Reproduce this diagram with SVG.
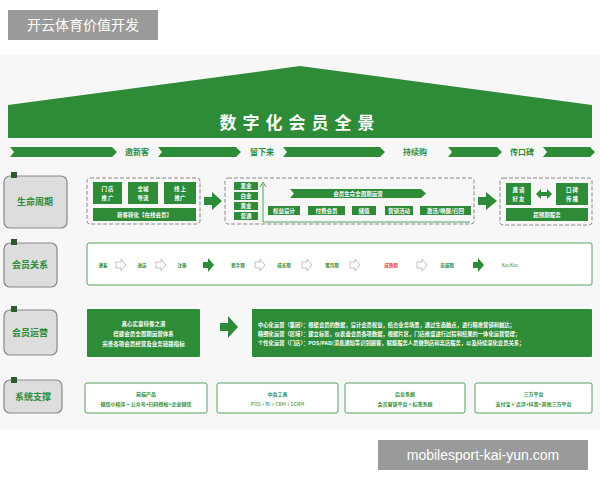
<svg xmlns="http://www.w3.org/2000/svg" width="600" height="480" viewBox="0 0 600 480">
<style>
text{font-family:"Noto Sans CJK SC","Liberation Sans",sans-serif;font-weight:bold}
text.n{font-weight:normal}
.g{fill:#2e8b37}
.w{fill:#fff}
.t{fill:#fff;font-size:5.5px;text-anchor:middle}
.gt{fill:#2e8b37;font-size:5px;text-anchor:middle}
.lab{fill:#ddd;stroke:#888;stroke-width:1.2}
.labt{fill:#2e8b37;font-size:9px;text-anchor:middle}
.dash{fill:none;stroke:#888;stroke-width:1;stroke-dasharray:4 2}
.hol{fill:#fff;stroke:#999;stroke-width:0.6}
.ob{fill:#fff;stroke:#2e8b37;stroke-width:0.8}
</style>
<rect width="600" height="480" fill="#fff"/>
<rect y="55" width="600" height="375" fill="#f7f7f7"/>
<polygon class="g" points="300,66 592,105 592,138 8,138 8,105"/>
<text x="300" y="129" fill="#fff" font-size="17" text-anchor="middle" letter-spacing="6">数字化会员全景</text>
<g id="band" class="g">
<polygon points="10,147 112,147 117,152 112,157 10,157 14,152"/>
<polygon points="158,147 236,147 241,152 236,157 158,157 162,152"/>
<polygon points="283,147 380,147 385,152 380,157 283,157 287,152"/>
<polygon points="448,147 497,147 502,152 497,157 448,157 452,152"/>
<polygon points="543,147 590,147 595,152 590,157 543,157 547,152"/>
</g>
<g font-size="8" fill="#2e8b37"><text x="137" y="155" text-anchor="middle">邀新客</text><text x="262" y="155" text-anchor="middle">留下来</text><text x="415" y="155" text-anchor="middle">持续购</text><text x="522" y="155" text-anchor="middle">传口碑</text></g>
<g id="lab1"><rect class="lab" x="4" y="176" width="63" height="52" rx="6"/><rect x="11" y="172" width="6" height="6" fill="#2e5a2e"/><text class="labt" x="35" y="205">生命周期</text></g>
<g id="lab2"><rect class="lab" x="4" y="243" width="53" height="44" rx="6"/><rect x="11" y="239" width="6" height="6" fill="#2e5a2e"/><text class="labt" x="30" y="268">会员关系</text></g>
<g id="lab3"><rect class="lab" x="4" y="310" width="53" height="45" rx="6"/><rect x="11" y="306" width="6" height="6" fill="#2e5a2e"/><text class="labt" x="30" y="336">会员运营</text></g>
<g id="lab4"><rect class="lab" x="4" y="380" width="58" height="33" rx="6"/><rect x="11" y="377" width="6" height="6" fill="#2e5a2e"/><text class="labt" x="33" y="400">系统支撑</text></g>
<g id="new">
<rect class="dash" x="87" y="178" width="113" height="46" rx="3"/>
<rect class="g" x="93" y="182" width="29" height="22"/><text class="t" x="107.5" y="191">门 店</text><text class="t" x="107.5" y="200">推 广</text>
<rect class="g" x="128" y="182" width="30" height="22"/><text class="t" x="143" y="191">全城</text><text class="t" x="143" y="200">导流</text>
<rect class="g" x="164" y="182" width="32" height="22"/><text class="t" x="180" y="191">线 上</text><text class="t" x="180" y="200">推广</text>
<rect class="g" x="93" y="208" width="103" height="13"/><text class="t" x="144.5" y="217">新客转化【在线会员】</text>
</g>
<g id="connectors" class="g">
<polygon points="204,197 212,197 212,192 222,201 212,210 212,205 204,205"/>
<polygon points="478,197 486,197 486,192 497,201 486,210 486,205 478,205"/>
<polygon points="220,323 228,323 228,316 238,327 228,338 228,331 220,331"/>
</g>
<g id="stay">
<rect class="dash" x="225" y="178" width="249" height="46" rx="3"/>
<rect class="g" x="234" y="182" width="24" height="8"/><text class="t" x="246" y="188">黑金</text>
<rect class="g" x="234" y="192" width="24" height="8"/><text class="t" x="246" y="198">白金</text>
<rect class="g" x="234" y="202" width="24" height="8"/><text class="t" x="246" y="208">黄金</text>
<rect class="g" x="234" y="212" width="24" height="8"/><text class="t" x="246" y="218">普通</text>
<path d="M263,222 V184 M260,187 L263,182 L266,187 M263,222 H470" stroke="#2e8b37" stroke-width="0.8" fill="none"/>
<polygon class="g" points="290,189 421,189 426,193.5 421,198 290,198 294,193.5"/><text class="t" x="358" y="196">会员生命全周期运营</text>
<rect class="g" x="268" y="206" width="32" height="9"/><text class="t" x="284" y="213">权益设计</text>
<rect class="g" x="308" y="206" width="37" height="9"/><text class="t" x="326.5" y="213">付费会员</text>
<rect class="g" x="352" y="206" width="24" height="9"/><text class="t" x="364" y="213">储值</text>
<rect class="g" x="385" y="206" width="28" height="9"/><text class="t" x="399" y="213">营销活动</text>
<rect class="g" x="420" y="206" width="51" height="9"/><text class="t" x="445.5" y="213">激活/唤醒/召回</text>
</g>
<g id="word">
<rect class="dash" x="500" y="178" width="92" height="47" rx="3"/>
<rect class="g" x="506" y="183" width="25" height="22"/><text class="t" x="518.5" y="192">邀 请</text><text class="t" x="518.5" y="201">好 友</text>
<path class="g" d="M536,194 L541,189 V192 H547 V189 L552,194 L547,199 V196 H541 V199 Z"/>
<rect class="g" x="556" y="183" width="32" height="22"/><text class="t" x="572" y="192">口 碑</text><text class="t" x="572" y="201">传 播</text>
<rect class="g" x="506" y="208" width="82" height="13"/><text class="t" x="547" y="217">超预期服务</text>
</g>
<g id="rel">
<rect class="ob" x="87" y="243" width="505" height="42" rx="2"/>
<g font-size="4.5" fill="#2e8b37" text-anchor="middle">
<text x="103" y="267">潜客</text><text x="142" y="267">进店</text><text x="182" y="267">注册</text><text x="238" y="267">新手期</text><text x="284" y="267">成长期</text><text x="332" y="267">蜜月期</text><text x="391" y="267" fill="#e04040">成熟期</text><text x="447" y="267">忠诚期</text><text x="510" y="267" class="n">Koi/Koc</text></g>
<g class="hol">
<path d="M116,262 h5 v-3 l5,6 -5,6 v-3 h-5 z"/><path d="M156,262 h5 v-3 l5,6 -5,6 v-3 h-5 z"/><path d="M255,262 h5 v-3 l5,6 -5,6 v-3 h-5 z"/><path d="M302,262 h5 v-3 l5,6 -5,6 v-3 h-5 z"/><path d="M350,262 h5 v-3 l5,6 -5,6 v-3 h-5 z"/><path d="M417,262 h5 v-3 l5,6 -5,6 v-3 h-5 z"/></g>
<g class="g"><path d="M203,262 h5 v-4 l6,7 -6,7 v-4 h-5 z"/><path d="M473,262 h5 v-4 l6,7 -6,7 v-4 h-5 z"/></g>
</g>
<g id="ops">
<rect class="g" x="87" y="309" width="113" height="48" rx="1"/>
<text class="t" x="143.5" y="326">真心实意待客之道</text><text class="t" x="143.5" y="336">搭建会员全周期运营体系</text><text class="t" x="143.5" y="346">完善各项会员经营及业务链路指标</text>
<rect class="g" x="252" y="309" width="340" height="48" rx="1"/>
<g fill="#fff" font-size="5.3"><text x="258" y="327">中心化运营（集团）：根据会员的数据，设计会员权益，结合业务场景，通过生态触点，进行精准营销和触达；</text><text x="258" y="336">精细化运营（区域）：建立标签，仪表盘会员各项数据，根据片区，门店维度进行过程和结果的一体化运营管理；</text><text x="258" y="345">个性化运营（门店）：POS/PAD/消息通知等识别顾客，赋能服务人员做到店和离店服务，以及持续深化会员关系；</text></g>
</g>
<g id="sys">
<rect class="ob" x="85" y="383" width="122" height="30" rx="2"/><text class="gt" x="146" y="396">前端产品</text><text class="gt" x="146" y="406">微信小程序 + 公众号+扫码授权+企业微信</text>
<rect class="ob" x="217" y="383" width="121" height="30" rx="2"/><text class="gt" x="277.5" y="396">中台工具</text><text class="gt n" x="277.5" y="406">POS + BI + CRM + SCRM</text>
<rect class="ob" x="345" y="383" width="120" height="30" rx="2"/><text class="gt" x="405" y="396">后台系统</text><text class="gt" x="405" y="406">会员营销平台 + 标签系统</text>
<rect class="ob" x="475" y="383" width="117" height="30" rx="2"/><text class="gt" x="533.5" y="396">三方平台</text><text class="gt" x="533.5" y="406">支付宝 + 点评+抖音+其他三方平台</text>
</g>
<rect x="8" y="10" width="150" height="30" fill="#9a9a9a"/>
<text class="n" x="83" y="30" fill="#fff" font-size="14" text-anchor="middle">开云体育价值开发</text>
<rect x="378" y="440" width="210" height="30" fill="#9a9a9a"/>
<text class="n" x="483" y="460" fill="#fff" font-size="14" text-anchor="middle" style="font-family:'Liberation Sans',sans-serif">mobilesport-kai-yun.com</text>
</svg>
